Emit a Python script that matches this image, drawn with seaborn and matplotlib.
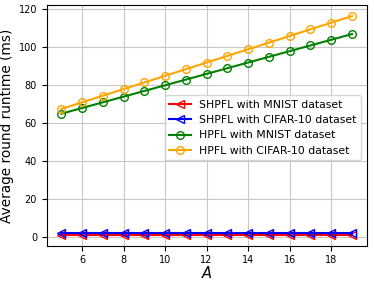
import pandas as pd
import seaborn as sns
import matplotlib.pyplot as plt

A = [5, 6, 7, 8, 9, 10, 11, 12, 13, 14, 15, 16, 17, 18, 19]
shpfl_mnist = [1.2] * 15
shpfl_cifar = [2.0] * 15
hpfl_mnist = [65, 68, 71, 74, 77, 80, 83, 86, 89, 92, 95, 98, 101, 104, 107]
hpfl_cifar = [67.5, 71, 74.5, 78, 81.5, 85, 88.5, 92, 95.5, 99, 102.5, 106, 109.5, 113, 116.5]

series = [
    ('SHPFL with MNIST dataset', shpfl_mnist, 'red', '<'),
    ('SHPFL with CIFAR-10 dataset', shpfl_cifar, 'blue', '<'),
    ('HPFL with MNIST dataset', hpfl_mnist, 'green', 'o'),
    ('HPFL with CIFAR-10 dataset', hpfl_cifar, 'orange', 'o'),
]

fig, ax = plt.subplots(figsize=(3.74, 2.84), dpi=100)
for label, vals, color, marker in series:
    df = pd.DataFrame({'A': A, 'runtime': vals})
    sns.lineplot(data=df, x='A', y='runtime', ax=ax, color=color, marker=marker,
                 markerfacecolor='none', markeredgecolor=color, markersize=5.5,
                 markeredgewidth=1, linewidth=1.5, label=label)

ax.grid(True, color='#c8c8c8', linewidth=0.8)
ax.set_axisbelow(True)
ax.set_xticks([6, 8, 10, 12, 14, 16, 18])
ax.set_yticks([0, 20, 40, 60, 80, 100, 120])
ax.tick_params(labelsize=7)
ax.set_xlabel('$A$', fontsize=10.5, labelpad=0)
ax.set_ylabel('Average round runtime (ms)', fontsize=9.8, labelpad=3)
ax.legend(fontsize=7.8, loc='center right', bbox_to_anchor=(1.0, 0.49), handlelength=2)

plt.subplots_adjust(left=0.125, right=0.98, bottom=0.135, top=0.982)
plt.savefig('out.png', dpi=100)
